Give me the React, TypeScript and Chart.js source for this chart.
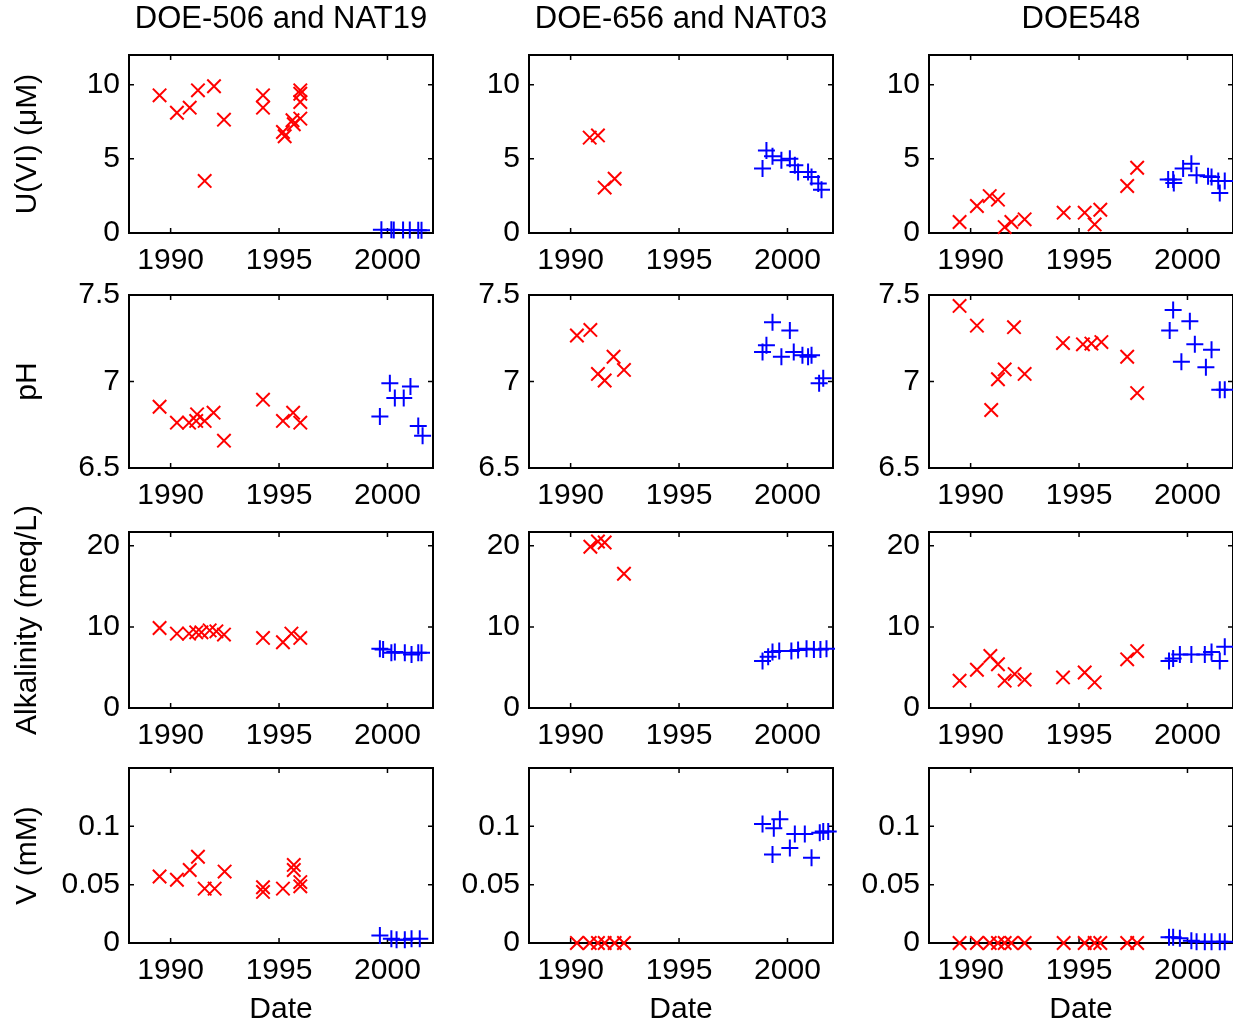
import React, { useEffect, useRef } from 'react';
import { Chart, registerables } from 'chart.js';

Chart.register(...registerables);

type Pt = [number, number];

// ---------- data (date in decimal years, value) ----------
// Row 1: U(VI) (µM)
const u506Red: Pt[] = [[1989.49, 9.28], [1990.29, 8.11], [1990.88, 8.45], [1991.26, 9.62], [1991.57, 3.51], [1992.0, 9.89], [1992.46, 7.64], [1994.26, 9.28], [1994.26, 8.45], [1995.18, 6.81], [1995.26, 6.52], [1995.62, 7.6], [1995.68, 7.33], [1995.98, 9.62], [1995.98, 9.39], [1995.98, 8.83], [1995.98, 7.71]];
const u506Blue: Pt[] = [[1999.72, 0.22], [2000.18, 0.22], [2000.29, 0.2], [2000.72, 0.2], [2001.03, 0.2], [2001.42, 0.18], [2001.57, 0.18]];
const u656Red: Pt[] = [[1990.88, 6.43], [1991.26, 6.58], [1991.57, 3.06], [1992.03, 3.66]];
const u656Blue: Pt[] = [[1998.85, 4.34], [1999.03, 5.57], [1999.31, 5.17], [1999.72, 4.9], [2000.11, 5.01], [2000.34, 4.56], [2000.49, 4.11], [2000.95, 4.11], [2001.11, 3.78], [2001.42, 3.33], [2001.57, 2.92]];
const u548Red: Pt[] = [[1989.49, 0.74], [1990.29, 1.82], [1990.88, 2.49], [1991.26, 2.25], [1991.57, 0.4], [1991.88, 0.74], [1992.49, 0.92], [1994.29, 1.37], [1995.26, 1.37], [1995.72, 0.58], [1995.98, 1.57], [1997.22, 3.17], [1997.68, 4.4]];
const u548Blue: Pt[] = [[1999.11, 3.6], [1999.34, 3.6], [1999.37, 3.37], [1999.8, 4.34], [2000.18, 4.67], [2000.42, 3.89], [2000.95, 3.82], [2001.11, 3.78], [2001.42, 3.51], [2001.49, 2.7], [2001.72, 3.51]];

// Row 2: pH
const ph506Red: Pt[] = [[1989.49, 6.854], [1990.29, 6.762], [1990.85, 6.762], [1991.18, 6.772], [1991.22, 6.81], [1991.57, 6.772], [1991.98, 6.82], [1992.46, 6.658], [1994.26, 6.895], [1995.18, 6.772], [1995.65, 6.82], [1995.98, 6.762]];
const ph506Blue: Pt[] = [[1999.65, 6.797], [2000.11, 6.99], [2000.34, 6.905], [2000.75, 6.905], [2001.06, 6.971], [2001.42, 6.743], [2001.62, 6.686]];
const ph656Red: Pt[] = [[1990.29, 7.266], [1990.91, 7.298], [1991.26, 7.044], [1991.57, 7.006], [1991.98, 7.143], [1992.46, 7.067]];
const ph656Blue: Pt[] = [[1998.85, 7.171], [1999.03, 7.209], [1999.31, 7.342], [1999.72, 7.143], [2000.11, 7.295], [2000.29, 7.171], [2000.69, 7.152], [2000.95, 7.143], [2001.11, 7.152], [2001.46, 6.99], [2001.65, 7.019]];
const ph548Red: Pt[] = [[1989.49, 7.437], [1990.29, 7.323], [1990.95, 6.835], [1991.26, 7.013], [1991.57, 7.07], [1992.0, 7.314], [1992.49, 7.044], [1994.26, 7.222], [1995.18, 7.215], [1995.57, 7.219], [1996.03, 7.228], [1997.22, 7.143], [1997.68, 6.933]];
const ph548Blue: Pt[] = [[1999.18, 7.295], [1999.34, 7.413], [1999.72, 7.114], [2000.11, 7.348], [2000.34, 7.215], [2000.85, 7.082], [2001.11, 7.184], [2001.49, 6.952], [2001.72, 6.952]];

// Row 3: Alkalinity (meq/L)
const alk506Red: Pt[] = [[1989.49, 9.86], [1990.29, 9.17], [1990.85, 9.17], [1991.18, 9.33], [1991.42, 9.33], [1991.8, 9.57], [1992.11, 9.45], [1992.46, 9.05], [1994.26, 8.64], [1995.18, 8.11], [1995.57, 9.17], [1995.98, 8.64]];
const alk506Blue: Pt[] = [[1999.65, 7.3], [1999.8, 7.2], [2000.18, 6.82], [2000.34, 6.9], [2000.8, 6.82], [2001.11, 6.61], [2001.42, 6.82], [2001.57, 6.82]];
const alk656Red: Pt[] = [[1990.91, 19.88], [1991.26, 20.53], [1991.57, 20.41], [1992.46, 16.55]];
const alk656Blue: Pt[] = [[1998.85, 5.8], [1999.11, 6.33], [1999.31, 6.9], [1999.62, 7.02], [2000.18, 7.02], [2000.49, 7.14], [2000.88, 7.3], [2001.22, 7.22], [2001.52, 7.22], [2001.8, 7.3]];
const alk548Red: Pt[] = [[1989.49, 3.37], [1990.29, 4.71], [1990.91, 6.41], [1991.26, 5.4], [1991.57, 3.37], [1992.03, 4.18], [1992.49, 3.49], [1994.26, 3.77], [1995.26, 4.38], [1995.72, 3.16], [1997.22, 6.0], [1997.68, 7.02]];
const alk548Blue: Pt[] = [[1999.15, 5.8], [1999.34, 6.09], [1999.65, 6.61], [2000.18, 6.61], [2000.8, 6.61], [2001.11, 6.9], [2001.49, 5.8], [2001.72, 7.55]];

// Row 4: V (mM)
const v506Red: Pt[] = [[1989.49, 0.057], [1990.29, 0.0542], [1990.88, 0.0626], [1991.26, 0.0739], [1991.57, 0.0466], [1992.03, 0.0466], [1992.49, 0.0612], [1994.26, 0.0478], [1994.26, 0.0438], [1995.18, 0.0466], [1995.68, 0.0669], [1995.68, 0.0626], [1995.98, 0.0522], [1995.98, 0.0486]];
const v506Blue: Pt[] = [[1999.65, 0.0065], [2000.18, 0.0037], [2000.42, 0.0028], [2000.8, 0.0028], [2001.11, 0.0037], [2001.49, 0.0037]];
const v656Red: Pt[] = [[1990.29, 0], [1990.88, 0], [1991.26, 0], [1991.57, 0], [1992.03, 0], [1992.46, 0]];
const v656Blue: Pt[] = [[1998.85, 0.102], [1999.31, 0.0758], [1999.37, 0.0983], [1999.65, 0.106], [2000.11, 0.0815], [2000.34, 0.0935], [2000.8, 0.0935], [2001.11, 0.073], [2001.49, 0.0944], [2001.65, 0.0955], [2001.88, 0.0955]];
const v548Red: Pt[] = [[1989.49, 0], [1990.29, 0], [1990.88, 0], [1991.26, 0], [1991.57, 0], [1991.88, 0], [1992.49, 0], [1994.29, 0], [1995.26, 0], [1995.72, 0], [1995.98, 0], [1997.22, 0], [1997.68, 0]];
const v548Blue: Pt[] = [[1999.15, 0.005], [1999.34, 0.005], [1999.65, 0.004], [2000.18, 0.002], [2000.42, 0.001], [2000.8, 0.001], [2001.11, 0.001], [2001.49, 0.001], [2001.72, 0.001]];

// ---------- labels / axes ----------
const colTitles = ['DOE-506 and NAT19', 'DOE-656 and NAT03', 'DOE548'];
const rowLabels = ['U(VI) (\u03bcM)', 'pH', 'Alkalinity (meq/L)', 'V (mM)'];
const rowTicks = [[0, 5, 10], [6.5, 7, 7.5], [0, 10, 20], [0, 0.05, 0.1]];
const rowMin = [0, 6.5, 0, 0];
const rowMax = [12, 7.5, 21.7, 0.15];
const yearTicks = [1990, 1995, 2000];
const dateMin = 1988.08;
const dateMax = 2002.1;
const xLabel = 'Date';

const grid: Pt[][][] = [
  [u506Red, u506Blue], [u656Red, u656Blue], [u548Red, u548Blue],
  [ph506Red, ph506Blue], [ph656Red, ph656Blue], [ph548Red, ph548Blue],
  [alk506Red, alk506Blue], [alk656Red, alk656Blue], [alk548Red, alk548Blue],
  [v506Red, v506Blue], [v656Red, v656Blue], [v548Red, v548Blue],
];

// ---------- layout ----------
const FONT = "'Liberation Sans', Arial, Helvetica, sans-serif";
const FS = 30;
const FS_TITLE = 31;
const plotLeft = [129, 529, 929];
const plotWidth = 304;
const plotTop = [55, 292, 529, 765];
const plotHeight = [178, 176, 179, 178];

Chart.defaults.font.family = FONT;
Chart.defaults.font.size = FS;
Chart.defaults.color = '#000';

const framePlugin = {
  id: 'matlabFrame',
  beforeDatasetsDraw(chart: any) {
    const { ctx, chartArea } = chart;
    const { left, right, top, bottom } = chartArea;
    const xs = chart.scales.x;
    const ys = chart.scales.y;
    ctx.save();
    ctx.strokeStyle = '#000';
    ctx.lineWidth = 2;
    ctx.strokeRect(left, top, right - left, bottom - top);
    ctx.lineWidth = 1.5;
    const tl = 5;
    ctx.beginPath();
    xs.ticks.forEach((t: any) => {
      const px = xs.getPixelForValue(t.value);
      ctx.moveTo(px, bottom);
      ctx.lineTo(px, bottom - tl);
      ctx.moveTo(px, top);
      ctx.lineTo(px, top + tl);
    });
    ys.ticks.forEach((t: any) => {
      const py = ys.getPixelForValue(t.value);
      ctx.moveTo(left, py);
      ctx.lineTo(left + tl, py);
      ctx.moveTo(right, py);
      ctx.lineTo(right - tl, py);
    });
    ctx.stroke();
    ctx.restore();
  },
};

function Panel({ row, col }: { row: number; col: number }) {
  const ref = useRef<HTMLCanvasElement>(null);
  const pl = plotLeft[col];
  const pt = plotTop[row];
  const pb = pt + plotHeight[row];
  const pr = pl + plotWidth;
  const cLeft = col === 0 ? 0 : pl - 100;
  const cRight = pr + 12;
  const cTop = row === 0 ? 0 : pt - 24;
  const cBottom = row === 3 ? 1028 : pb + 46;
  const w = cRight - cLeft;
  const h = cBottom - cTop;

  useEffect(() => {
    const [red, blue] = grid[row * 3 + col];
    const chart = new Chart(ref.current as HTMLCanvasElement, {
      type: 'scatter',
      data: {
        datasets: [
          {
            data: red.map(([x, y]) => ({ x, y })),
            pointStyle: 'crossRot',
            pointRadius: 9.5,
            pointHoverRadius: 9.5,
            pointBorderColor: '#ff0000',
            pointBackgroundColor: '#ff0000',
            borderColor: '#ff0000',
            pointBorderWidth: 2,
            clip: false,
          } as any,
          {
            data: blue.map(([x, y]) => ({ x, y })),
            pointStyle: 'cross',
            pointRadius: 8.5,
            pointHoverRadius: 8.5,
            pointBorderColor: '#0000ff',
            pointBackgroundColor: '#0000ff',
            borderColor: '#0000ff',
            pointBorderWidth: 2,
            clip: false,
          } as any,
        ],
      },
      options: {
        responsive: false,
        animation: false,
        events: [],
        layout: { padding: { left: 0, right: cRight - pr, top: row === 0 ? 0 : pt - cTop, bottom: 0 } },
        plugins: {
          legend: { display: false },
          tooltip: { enabled: false },
          title: {
            display: row === 0,
            text: colTitles[col],
            fullSize: false,
            color: '#000',
            font: { size: FS_TITLE, weight: 'normal' as any, family: FONT },
            padding: { top: 1, bottom: 55 - 1 - FS_TITLE * 1.2 },
          },
        },
        scales: {
          x: {
            type: 'linear',
            position: 'bottom',
            min: dateMin,
            max: dateMax,
            afterBuildTicks: (s: any) => {
              s.ticks = yearTicks.map((v) => ({ value: v }));
            },
            afterFit: (s: any) => {
              s.height = cBottom - pb;
            },
            grid: { display: false, drawTicks: false },
            border: { display: false },
            ticks: {
              padding: 10,
              color: '#000',
              autoSkip: false,
              maxRotation: 0,
              minRotation: 0,
              font: { size: FS, family: FONT },
              callback: (v: any) => String(v),
            },
            title: {
              display: row === 3,
              text: xLabel,
              color: '#000',
              font: { size: FS, family: FONT },
              padding: { top: 0, bottom: 0 },
            },
          },
          y: {
            type: 'linear',
            position: 'left',
            min: rowMin[row],
            max: rowMax[row],
            afterBuildTicks: (s: any) => {
              s.ticks = rowTicks[row].map((v) => ({ value: v }));
            },
            afterFit: (s: any) => {
              s.width = pl - cLeft;
            },
            grid: { display: false, drawTicks: false },
            border: { display: false },
            ticks: {
              padding: 9,
              color: '#000',
              autoSkip: false,
              font: { size: FS, family: FONT },
              callback: (v: any) => String(v),
            },
            title: {
              display: col === 0,
              text: rowLabels[row],
              color: '#000',
              font: { size: FS, family: FONT },
              padding: { top: 10, bottom: 0 },
            },
          },
        },
      },
      plugins: [framePlugin],
    });
    return () => chart.destroy();
  }, [row, col]);

  return (
    <canvas
      ref={ref}
      width={w}
      height={h}
      style={{ position: 'absolute', left: cLeft, top: cTop, width: w, height: h }}
    />
  );
}

export default function App() {
  const cells: React.ReactNode[] = [];
  for (let r = 0; r < 4; r++) {
    for (let c = 0; c < 3; c++) {
      cells.push(<Panel key={`${r}-${c}`} row={r} col={c} />);
    }
  }
  return (
    <div
      style={{
        position: 'absolute',
        left: 0,
        top: 0,
        width: 1233,
        height: 1026,
        overflow: 'hidden',
        background: '#fff',
      }}
    >
      {cells}
    </div>
  );
}
